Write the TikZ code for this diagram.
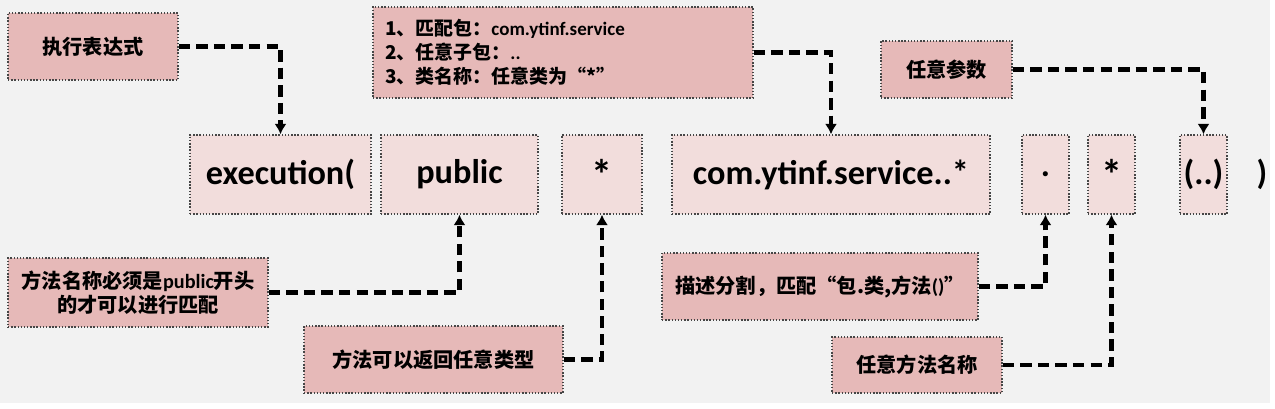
\documentclass[tikz,border=0pt]{standalone}
\usepackage{fontspec}
\setmainfont{Carlito}
\newfontfamily\cjk{Noto Sans CJK SC}
\newfontfamily\lat{Carlito}
\usetikzlibrary{arrows.meta}

\definecolor{bgray}{RGB}{242,242,242}
\definecolor{keypink}{RGB}{242,221,220}
\definecolor{notepink}{RGB}{230,185,184}
\definecolor{rim}{RGB}{70,70,70}

\tikzset{
  keybox/.style={draw=rim, densely dotted, line width=0.8pt, fill=keypink, inner sep=0pt,
    minimum height=1.58cm, font=\lat\bfseries\fontsize{19.5}{22}\selectfont},
  notebox/.style={draw=rim, densely dotted, line width=0.8pt, fill=notepink, inner sep=0pt,
    align=center, font=\cjk\bfseries\fontsize{11.5}{13.7}\selectfont},
  link/.style={draw=black, line width=2.3pt, dash pattern=on 6.5pt off 3.5pt,
    -{Latex[length=6pt,width=7pt]}}
}

\begin{document}
\begin{tikzpicture}[x=0.02cm, y=-0.02cm]

  \useasboundingbox (0,0) rectangle (1275,409);
  \fill[bgray] (0,0) rectangle (1270,403);

  % the expression itself
  \node[keybox, minimum width=3.62cm] (exe)  at (280.5,174.5) {execution(};
  \node[keybox, minimum width=3.14cm] (pub)  at (459.5,174.5) {public};
  \node[keybox, minimum width=1.6cm]  (ret)  at (602,174.5)   {\fontsize{24}{24}\selectfont *};
  \node[keybox, minimum width=6.36cm] (pkg)  at (831,174.5)   {com.ytinf.service..*};
  \node[keybox, minimum width=0.94cm] (dot)  at (1045.5,174.5) {.};
  \node[keybox, minimum width=0.94cm] (meth) at (1111.5,174.5) {\fontsize{24}{24}\selectfont *};
  \node[keybox, minimum width=0.94cm] (args) at (1203.5,174.5) {(..)};
  \node[font=\lat\bfseries\fontsize{19.5}{22}\selectfont] (close) at (1262,174.5) {)};

  % notes above
  \node[notebox, minimum width=3.4cm, minimum height=1.34cm] (exprnote) at (93,46.5) {执行表达式};
  \node[notebox, text width=7.12cm, inner xsep=0.24cm, minimum height=1.82cm, align=left,
    font=\cjk\bfseries\fontsize{10.8}{13.7}\selectfont] (pkgnote) at (563,52.5)
    {1、匹配包：{\lat com.ytinf.service}\\2、任意子包：{\lat ..}\\3、类名称：任意类为“*”};
  \node[notebox, minimum width=2.62cm, minimum height=1.14cm] (argnote) at (946.5,69.5) {任意参数};

  % notes below
  \node[notebox, minimum width=5.2cm, minimum height=1.38cm] (pubnote) at (138,292.5)
    {方法名称必须是{\lat public}开头\\的才可以进行匹配};
  \node[notebox, minimum width=5.18cm, minimum height=1.34cm] (retnote) at (433.5,359.5) {方法可以返回任意类型};
  \node[notebox, minimum width=6.32cm, minimum height=1.34cm] (sepnote) at (820,286.5)
    {描述分割，匹配“包.类,方法{\lat ()}”};
  \node[notebox, minimum width=3.4cm, minimum height=1.12cm] (methnote) at (917,365) {任意方法名称};

  \draw[link] (exprnote.east) -| (exe.north);
  \draw[link] (pkgnote.east) -| (pkg.north);
  \draw[link] (argnote.east) -| (args.north);
  \draw[link] (pubnote.east) -| (pub.south);
  \draw[link] (retnote.east) -| (ret.south);
  \draw[link] (sepnote.east) -| (dot.south);
  \draw[link] (methnote.east) -| (meth.south);

\end{tikzpicture}
\end{document}
